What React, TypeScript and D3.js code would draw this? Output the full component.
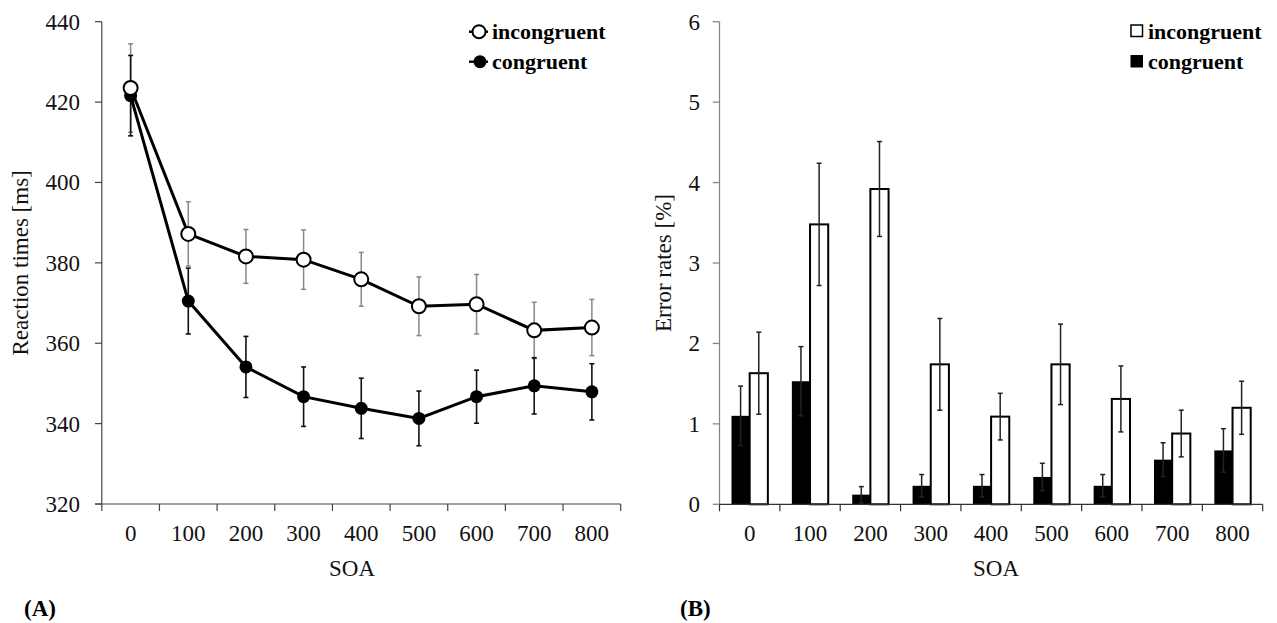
import React from 'react';
import * as d3 from 'd3';

// categories (SOA in ms)
const soa = ['0', '100', '200', '300', '400', '500', '600', '700', '800'];

// (A) reaction times [ms] with error bars
const rtIncongruent = [423.5, 387.2, 381.6, 380.8, 375.9, 369.2, 369.7, 363.2, 363.9];
const rtIncongruentErr = [11, 8, 6.7, 7.4, 6.7, 7.3, 7.4, 7.0, 7.0];
const rtCongruent = [421.6, 370.5, 354.1, 346.7, 343.8, 341.3, 346.7, 349.4, 347.9];
const rtCongruentErr = [10, 8.2, 7.6, 7.4, 7.5, 6.8, 6.6, 7.0, 7.0];
const rtTicks = [320, 340, 360, 380, 400, 420, 440];

// (B) error rates [%] with error bars
const erIncongruent = [1.63, 3.48, 3.92, 1.74, 1.09, 1.74, 1.31, 0.88, 1.2];
const erIncongruentErr = [0.51, 0.76, 0.59, 0.57, 0.29, 0.5, 0.41, 0.29, 0.33];
const erCongruent = [1.1, 1.53, 0.12, 0.23, 0.23, 0.34, 0.23, 0.555, 0.67];
const erCongruentErr = [0.37, 0.43, 0.1, 0.14, 0.14, 0.17, 0.14, 0.21, 0.27];
const erTicks = [0, 1, 2, 3, 4, 5, 6];

const series = ['congruent', 'incongruent'];

const FONT = '"Liberation Serif", "Times New Roman", serif';

const App = () => {
  const width = 1277;
  const height = 623;

  // ---- panel A scales
  const xA = d3.scaleBand<string>().domain(soa).range([101.8, 620.7]).padding(0);
  const yA = d3.scaleLinear().domain([320, 440]).range([504, 21.7]);
  const cx = (s: string) => (xA(s) as number) + xA.bandwidth() / 2;

  const lineA = d3.line<number>()
    .x((_, i) => cx(soa[i]))
    .y(d => yA(d));

  // ---- panel B scales
  const xB = d3.scaleBand<string>().domain(soa).range([719.5, 1262.7]).padding(0);
  const yB = d3.scaleLinear().domain([0, 6]).range([504.3, 21.7]);
  const xB1 = d3.scaleBand<string>().domain(series).range([12, xB.bandwidth() - 12]).padding(0);

  const axisA = '#444';
  const axisB = '#888';

  const errBar = (x: number, y1: number, y2: number, color: string, key: string, cap = 3, sw = 1.5) => (
    <g key={key} stroke={color} strokeWidth={sw}>
      <line x1={x} x2={x} y1={y1} y2={y2} />
      <line x1={x - cap} x2={x + cap} y1={y1} y2={y1} />
      <line x1={x - cap} x2={x + cap} y1={y2} y2={y2} />
    </g>
  );

  const bandEdges = (scale: d3.ScaleBand<string>) => [
    ...soa.map(s => scale(s) as number),
    (scale(soa[soa.length - 1]) as number) + scale.bandwidth(),
  ];

  return (
    <svg
      width={width}
      height={height}
      style={{ position: 'absolute', left: 0, top: 0, background: '#fff', fontFamily: FONT }}
    >
      {/* ================= Panel A ================= */}
      <g>
        {/* y axis */}
        <line x1={101.8} x2={101.8} y1={yA(440)} y2={yA(320)} stroke={axisA} strokeWidth={1.2} />
        {rtTicks.map(t => (
          <g key={'ya' + t}>
            <line x1={95} x2={101.8} y1={yA(t)} y2={yA(t)} stroke={axisA} strokeWidth={1.2} />
            <text x={80} y={yA(t) + 8} textAnchor="end" fontSize={23} fill="#111">{t}</text>
          </g>
        ))}
        {/* x axis */}
        <line x1={95} x2={620.7} y1={yA(320)} y2={yA(320)} stroke={axisA} strokeWidth={1.2} />
        {bandEdges(xA).map((e, i) => (
          <line key={'xta' + i} x1={e} x2={e} y1={yA(320)} y2={yA(320) + 7} stroke={axisA} strokeWidth={1.2} />
        ))}
        {soa.map(s => (
          <text key={'xla' + s} x={cx(s)} y={541} textAnchor="middle" fontSize={23} fill="#111">{s}</text>
        ))}
        <text x={352} y={576} textAnchor="middle" fontSize={23} fill="#111">SOA</text>
        <text
          transform={`translate(28, ${(yA(440) + yA(320)) / 2}) rotate(-90)`}
          textAnchor="middle"
          fontSize={23}
          fill="#111"
        >
          Reaction times [ms]
        </text>

        {/* error bars */}
        {rtIncongruent.map((v, i) =>
          errBar(cx(soa[i]), yA(v + rtIncongruentErr[i]), yA(v - rtIncongruentErr[i]), '#888', 'eia' + i, 2.5, 1.5)
        )}
        {rtCongruent.map((v, i) =>
          errBar(cx(soa[i]), yA(v + rtCongruentErr[i]), yA(v - rtCongruentErr[i]), '#111', 'eca' + i, 2.5, 1.6)
        )}

        {/* congruent line */}
        <path d={lineA(rtCongruent) as string} fill="none" stroke="#000" strokeWidth={3} />
        {rtCongruent.map((v, i) => (
          <circle key={'mca' + i} cx={cx(soa[i])} cy={yA(v)} r={6.5} fill="#000" />
        ))}
        {/* incongruent line */}
        <path d={lineA(rtIncongruent) as string} fill="none" stroke="#000" strokeWidth={3} />
        {rtIncongruent.map((v, i) => (
          <circle key={'mia' + i} cx={cx(soa[i])} cy={yA(v)} r={7} fill="#fff" stroke="#000" strokeWidth={2} />
        ))}

        {/* legend */}
        <g>
          <line x1={469} x2={488} y1={31.7} y2={31.7} stroke="#000" strokeWidth={2.5} />
          <circle cx={479} cy={31.7} r={6.5} fill="#fff" stroke="#000" strokeWidth={2} />
          <text x={492} y={39} fontSize={22} fontWeight="bold" fill="#000">incongruent</text>
          <line x1={469} x2={488} y1={61.7} y2={61.7} stroke="#000" strokeWidth={2.5} />
          <circle cx={480} cy={61.7} r={6.5} fill="#000" />
          <text x={492} y={69} fontSize={22} fontWeight="bold" fill="#000">congruent</text>
        </g>

        <text x={24} y={616} fontSize={23} fontWeight="bold" fill="#000">(A)</text>
      </g>

      {/* ================= Panel B ================= */}
      <g>
        {/* bars */}
        {soa.map((s, i) => {
          const x0 = xB(s) as number;
          const xc = x0 + (xB1('congruent') as number);
          const xi = x0 + (xB1('incongruent') as number);
          const bw = xB1.bandwidth();
          return (
            <g key={'bar' + s}>
              <rect x={xc} y={yB(erCongruent[i])} width={bw} height={yB(0) - yB(erCongruent[i])} fill="#000" />
              {errBar(xc + bw / 2, yB(erCongruent[i] + erCongruentErr[i]), yB(erCongruent[i] - erCongruentErr[i]), '#222', 'ecb' + i, 2.5, 1.5)}
              <rect x={xi} y={yB(erIncongruent[i])} width={bw} height={yB(0) - yB(erIncongruent[i])} fill="#fff" stroke="#000" strokeWidth={2} />
              {errBar(xi + bw / 2, yB(erIncongruent[i] + erIncongruentErr[i]), yB(erIncongruent[i] - erIncongruentErr[i]), '#222', 'eib' + i, 2.5, 1.5)}
            </g>
          );
        })}

        {/* y axis */}
        <line x1={719.5} x2={719.5} y1={yB(6)} y2={yB(0)} stroke={axisB} strokeWidth={1.3} />
        {erTicks.map(t => (
          <g key={'yb' + t}>
            <line x1={712.7} x2={719.5} y1={yB(t)} y2={yB(t)} stroke={axisB} strokeWidth={1.3} />
            <text x={700} y={yB(t) + 8} textAnchor="end" fontSize={23} fill="#111">{t}</text>
          </g>
        ))}
        {/* x axis */}
        <line x1={719.5} x2={1262.7} y1={yB(0)} y2={yB(0)} stroke="#333" strokeWidth={1.3} />
        {bandEdges(xB).map((e, i) => (
          <line key={'xtb' + i} x1={e} x2={e} y1={yB(0)} y2={yB(0) + 7} stroke="#333" strokeWidth={1.2} />
        ))}
        {soa.map(s => (
          <text key={'xlb' + s} x={(xB(s) as number) + xB.bandwidth() / 2} y={541} textAnchor="middle" fontSize={23} fill="#111">{s}</text>
        ))}
        <text x={996} y={576} textAnchor="middle" fontSize={23} fill="#111">SOA</text>
        <text
          transform={`translate(671, ${(yB(6) + yB(0)) / 2}) rotate(-90)`}
          textAnchor="middle"
          fontSize={23}
          fill="#111"
        >
          Error rates [%]
        </text>

        {/* legend */}
        <g>
          <rect x={1131} y={25} width={11.5} height={11.5} fill="#fff" stroke="#000" strokeWidth={1.5} />
          <text x={1148} y={39} fontSize={22} fontWeight="bold" fill="#000">incongruent</text>
          <rect x={1130.5} y={55} width={12.5} height={12.5} fill="#000" />
          <text x={1148} y={69} fontSize={22} fontWeight="bold" fill="#000">congruent</text>
        </g>

        <text x={680} y={616} fontSize={23} fontWeight="bold" fill="#000">(B)</text>
      </g>
    </svg>
  );
};

export default App;
